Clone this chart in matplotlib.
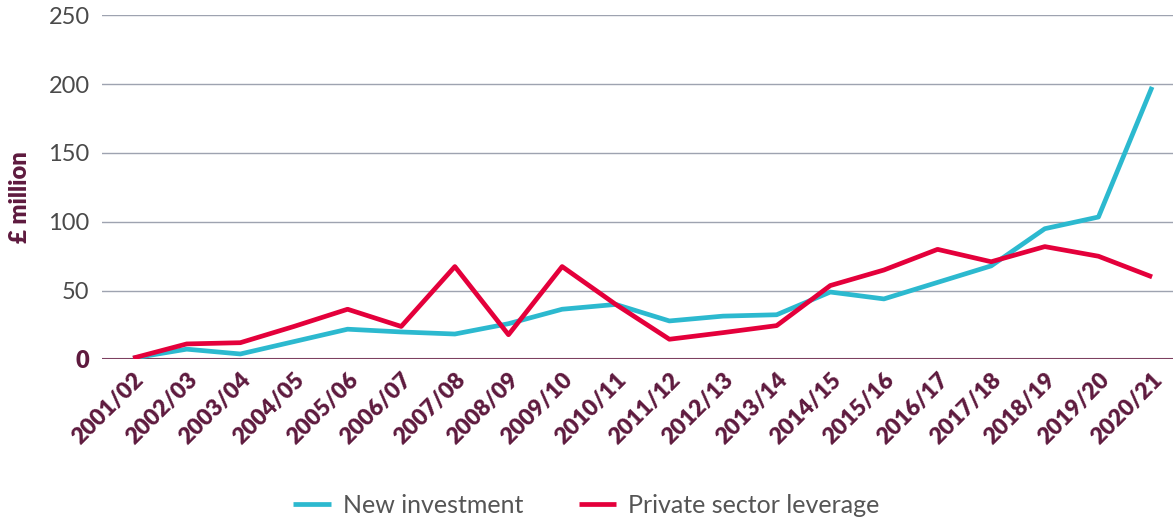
import matplotlib.pyplot as plt

# years and values (in £ million)
years = ['2001/02', '2002/03', '2003/04', '2004/05', '2005/06', '2006/07', '2007/08',
         '2008/09', '2009/10', '2010/11', '2011/12', '2012/13', '2013/14', '2014/15',
         '2015/16', '2016/17', '2017/18', '2018/19', '2019/20', '2020/21']
new_investment = [1, 7.5, 4, 13, 22, 20, 18.5, 26, 36.5, 40, 28, 31.5, 32.5, 49,
                  44, 56, 68, 95, 103.5, 198]
private_leverage = [1, 11.3, 12.2, 24, 36.5, 24, 67.5, 18, 67.5, 40, 14.7, 19.5, 24.6, 53.7,
                    65, 80, 71, 82, 75, 60]
y_ticks = [0, 50, 100, 150, 200, 250]

maroon = '#5e1a3e'
cyan = '#2cb9cf'
red = '#e4003b'

plt.rcParams['font.family'] = ['Lato', 'DejaVu Sans']

fig = plt.figure(figsize=(11.73, 5.21), dpi=100)
ax = fig.add_axes([0.087, 0.31, 0.913, 0.6606])

x = list(range(len(years)))
ax.plot(x, new_investment, color=cyan, lw=3.4, label='New investment', solid_capstyle='butt')
ax.plot(x, private_leverage, color=red, lw=3.4, label='Private sector leverage', solid_capstyle='butt')

ax.set_xlim(-0.578, 19.39)
ax.set_ylim(0, 250)
ax.set_yticks(y_ticks)
ax.set_yticklabels([str(v) for v in y_ticks], fontsize=17, color='#4a4a4a')
lbl0 = ax.get_yticklabels()[0]
lbl0.set_color(maroon)
lbl0.set_fontweight('heavy')

for v in y_ticks[1:]:
    ax.axhline(v, color='#9ea3b0', lw=1, zorder=0)
ax.axhline(0, color='#7d4060', lw=1.5, zorder=0)

ax.set_xticks(x)
ax.set_xticklabels(years, rotation=45, ha='right', rotation_mode='anchor',
                   fontsize=16.5, fontweight='heavy', color=maroon)
ax.tick_params(axis='both', length=0)
ax.tick_params(axis='x', pad=7)
ax.tick_params(axis='y', pad=9)

for s in ax.spines.values():
    s.set_visible(False)

fig.text(0.017, 0.622, '£ million', rotation=90, fontsize=17, fontweight='heavy',
         color=maroon, ha='center', va='center')

fig.legend(loc='lower center', bbox_to_anchor=(0.5, -0.035), ncol=2, frameon=False,
           fontsize=18, handlelength=1.5, handletextpad=0.5,
           columnspacing=2.2, labelcolor='#555555')

plt.savefig('out.png', dpi=100)
